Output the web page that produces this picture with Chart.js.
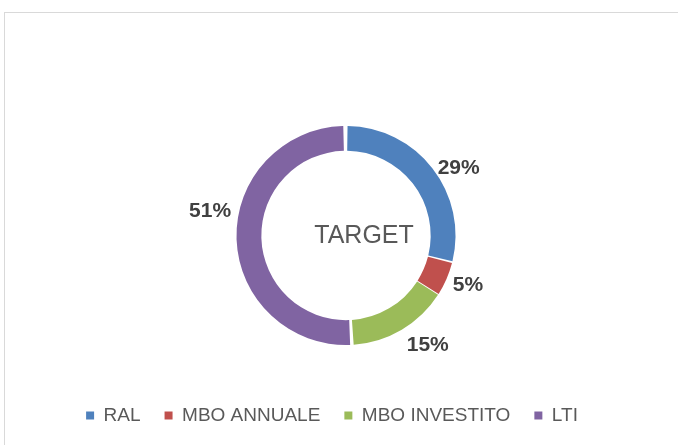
<!DOCTYPE html>
<html>
<head>
<meta charset="utf-8">
<script src="https://cdn.jsdelivr.net/npm/chart.js@4/dist/chart.umd.min.js"></script>
<style>
  html, body { margin: 0; padding: 0; background: #fff; overflow: hidden; }
  #frame { position: absolute; left: 4px; top: 12px; width: 700px; height: 470px; border: 1px solid #d9d9d9; }
  #wrap { position: absolute; left: 0; top: 0; width: 678px; height: 435px; }
</style>
</head>
<body>
<div id="frame"></div>
<div id="wrap"><canvas id="targetChart"></canvas></div>
<script>
const categories = ['RAL', 'MBO ANNUALE', 'MBO INVESTITO', 'LTI'];
const values = [29, 5, 15, 51];
const sliceColors = ['#4f81bd', '#c0504d', '#9bbb59', '#8064a2'];
const centerLabel = 'TARGET';

// small nudges so the % labels sit like the original
const labelNudge = [[6, 15], [-2, -4], [13, -6], [-1, -29]];

const pctLabels = {
    id: 'pctLabels',
    afterLayout(chart) {
        // legend in the original sits a bit left of the ring centre
        chart.legend.left -= 14;
        chart.legend.right -= 14;
    },
    afterDatasetsDraw(chart) {
        const ctx = chart.ctx;
        const meta = chart.getDatasetMeta(0);
        ctx.save();
        ctx.font = 'bold 21px "Liberation Sans", Arial, sans-serif';
        ctx.fillStyle = '#404040';
        ctx.textAlign = 'center';
        ctx.textBaseline = 'middle';
        meta.data.forEach((arc, i) => {
            const p = arc.getProps(['x', 'y', 'startAngle', 'endAngle', 'outerRadius'], true);
            const mid = (p.startAngle + p.endAngle) / 2;
            const r = p.outerRadius + 27;
            const px = p.x + Math.cos(mid) * r + labelNudge[i][0];
            const py = p.y + Math.sin(mid) * r + labelNudge[i][1];
            ctx.fillText(values[i] + '%', px, py);
        });
        // centre text
        const a = meta.data[0];
        ctx.font = '25px "Liberation Sans", Arial, sans-serif';
        ctx.fillStyle = '#595959';
        ctx.fillText(centerLabel, a.x + 18, a.y + 1);
        ctx.restore();
    }
};

var ctx = document.getElementById('targetChart').getContext('2d');
var targetChart = new Chart(ctx, {
    type: 'doughnut',
    data: {
        labels: categories,
        datasets: [{
            data: values,
            backgroundColor: sliceColors,
            borderWidth: 0,
            spacing: 3
        }]
    },
    options: {
        responsive: true,
        maintainAspectRatio: false,
        devicePixelRatio: 1,
        animation: false,
        radius: 108,
        cutout: '77%',
        layout: { padding: { left: 14, right: 0, top: 89, bottom: 0 } },
        plugins: {
            tooltip: { enabled: false },
            legend: {
                position: 'bottom',
                labels: {
                    boxWidth: 8,
                    boxHeight: 8,
                    padding: 24,
                    color: '#595959',
                    font: { family: '"Liberation Sans", Arial, sans-serif', size: 19 }
                }
            }
        }
    },
    plugins: [pctLabels]
});
</script>
</body>
</html>
